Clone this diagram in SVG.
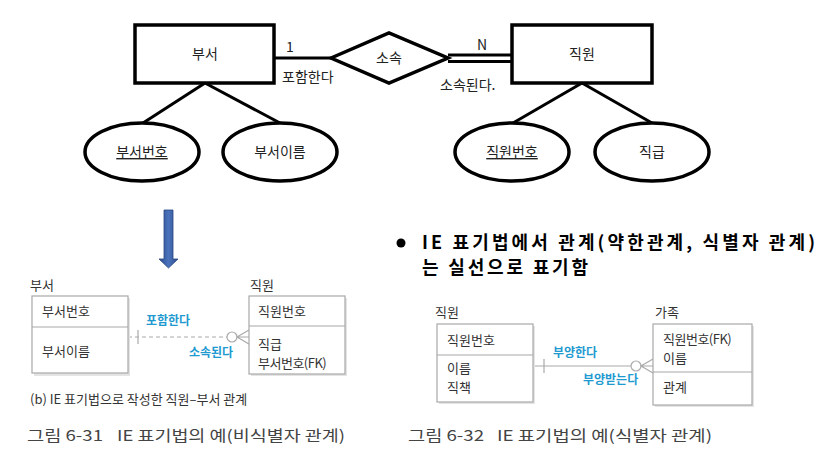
<svg xmlns="http://www.w3.org/2000/svg" width="820" height="458" viewBox="0 0 820 458">
<defs>
<linearGradient id="ag" x1="0" y1="0" x2="1" y2="0">
<stop offset="0" stop-color="#2f4f8f"/><stop offset="0.5" stop-color="#4a72bb"/><stop offset="1" stop-color="#2f4f8f"/>
</linearGradient>
</defs>
<style>
text{font-family:"Noto Sans CJK KR","Liberation Sans",sans-serif;}
.t{font-size:14px;fill:#222;}
.er{fill:#fff;stroke:#000;stroke-width:3.5;}
.ln{stroke:#000;stroke-width:3;fill:none;}
.ie{fill:#fff;stroke:#a8a8a8;stroke-width:1.2;}
.sh{fill:#e4e4e4;}
.dv{stroke:#a8a8a8;stroke-width:1.2;}
.it{font-size:13px;fill:#333;}
.bl{font-size:12px;fill:#1e9ad0;font-weight:bold;}
.cg{stroke:#aaa;stroke-width:1.2;fill:none;}
.cap{font-size:15px;fill:#444;}
.bb{font-size:18px;font-weight:bold;fill:#000;}
</style>
<rect width="820" height="458" fill="#fff"/>
<g id="connectors">
<line class="ln" x1="205" y1="83" x2="143" y2="123"/>
<line class="ln" x1="205" y1="83" x2="280" y2="123"/>
<line class="ln" x1="582" y1="83" x2="513" y2="123"/>
<line class="ln" x1="582" y1="83" x2="652" y2="123"/>
<line class="ln" x1="274" y1="58" x2="331" y2="58"/>
<line class="ln" x1="448" y1="55" x2="512" y2="55"/>
<line class="ln" x1="448" y1="61.5" x2="512" y2="61.5"/>
<line x1="128" y1="337" x2="227" y2="337" stroke="#aaa" stroke-width="1.2" stroke-dasharray="4,3"/>
<line class="cg" x1="138" y1="330" x2="138" y2="344"/>
<circle cx="232" cy="337" r="5" fill="#fff" stroke="#aaa" stroke-width="1.2"/>
<path class="cg" d="M249 330 L237 337 L249 344 M237 337 L249 337"/>
<line x1="533" y1="366" x2="631" y2="366" stroke="#aaa" stroke-width="1.2"/>
<line class="cg" x1="544" y1="359" x2="544" y2="373"/>
<circle cx="636" cy="366" r="5" fill="#fff" stroke="#aaa" stroke-width="1.2"/>
<path class="cg" d="M653 359 L641 366 L653 373 M641 366 L653 366"/>
</g>
<g id="dept">
<rect class="er" x="135" y="25" width="139" height="58"/>
<text class="t" x="205" y="59" text-anchor="middle">부서</text>
</g>
<g id="belong">
<polygon class="er" points="331,58 389,33 448,58 389,83"/>
<text class="t" x="389" y="63" text-anchor="middle">소속</text>
</g>
<g id="emp">
<rect class="er" x="512" y="25" width="140" height="58"/>
<text class="t" x="582" y="59" text-anchor="middle">직원</text>
</g>
<g id="labels-top">
<text class="t" x="286" y="52">1</text>
<text class="t" x="282" y="82">포함한다</text>
<text class="t" x="477" y="50">N</text>
<text class="t" x="440" y="90">소속된다.</text>
</g>
<g id="attr-deptno">
<ellipse class="er" cx="142" cy="152" rx="57" ry="29"/>
<text class="t" x="142" y="157" text-anchor="middle" text-decoration="underline">부서번호</text>
</g>
<g id="attr-deptname">
<ellipse class="er" cx="280" cy="152" rx="57" ry="29"/>
<text class="t" x="280" y="157" text-anchor="middle">부서이름</text>
</g>
<g id="attr-empno">
<ellipse class="er" cx="512" cy="152" rx="57" ry="29"/>
<text class="t" x="512" y="157" text-anchor="middle" text-decoration="underline">직원번호</text>
</g>
<g id="attr-grade">
<ellipse class="er" cx="652" cy="152" rx="57" ry="29"/>
<text class="t" x="652" y="157" text-anchor="middle">직급</text>
</g>
<g id="arrow">
<polygon points="164,210 173,210 173,259 178,259 168.5,268 159,259 164,259" fill="url(#ag)" stroke="#2a4680" stroke-width="0.8"/>
</g>
<g id="ie-dept">
<text class="it" x="30" y="290">부서</text>
<rect class="sh" x="34" y="298" width="96" height="78"/>
<rect class="ie" x="32" y="296" width="96" height="77"/>
<line class="dv" x1="32" y1="327" x2="128" y2="327"/>
<text class="it" x="42" y="316">부서번호</text>
<text class="it" x="42" y="356">부서이름</text>
</g>
<g id="ie-emp">
<text class="it" x="250" y="290">직원</text>
<rect class="sh" x="251" y="298" width="96" height="78"/>
<rect class="ie" x="249" y="296" width="96" height="78"/>
<line class="dv" x1="249" y1="326" x2="345" y2="326"/>
<text class="it" x="258" y="316">직원번호</text>
<text class="it" x="258" y="349">직급</text>
<text class="it" x="258" y="368" letter-spacing="-0.5">부서번호(FK)</text>
</g>
<g id="ie-labels1">
<text class="bl" x="146" y="325">포함한다</text>
<text class="bl" x="189" y="357">소속된다</text>
<text x="30" y="404" font-size="13" fill="#333">(b) IE 표기법으로 작성한 직원–부서 관계</text>
</g>
<g id="bullet">
<circle cx="401" cy="243" r="4.5" fill="#000"/>
<text class="bb" x="422" y="249" textLength="393" lengthAdjust="spacing">IE 표기법에서 관계(약한관계, 식별자 관계)</text>
<text class="bb" x="422" y="274" textLength="166" lengthAdjust="spacing">는 실선으로 표기함</text>
</g>
<g id="ie2-emp">
<text class="it" x="435" y="317">직원</text>
<rect class="sh" x="439" y="326" width="96" height="78"/>
<rect class="ie" x="437" y="324" width="96" height="78"/>
<line class="dv" x1="437" y1="355" x2="533" y2="355"/>
<text class="it" x="447" y="345">직원번호</text>
<text class="it" x="447" y="373">이름</text>
<text class="it" x="447" y="392">직책</text>
</g>
<g id="ie2-family">
<text class="it" x="655" y="317">가족</text>
<rect class="sh" x="655" y="326" width="99" height="81"/>
<rect class="ie" x="653" y="324" width="99" height="81"/>
<line class="dv" x1="653" y1="372" x2="752" y2="372"/>
<text class="it" x="663" y="344" letter-spacing="-0.5">직원번호(FK)</text>
<text class="it" x="663" y="363">이름</text>
<text class="it" x="663" y="392">관계</text>
</g>
<g id="ie-labels2">
<text class="bl" x="553" y="357">부양한다</text>
<text class="bl" x="583" y="384">부양받는다</text>
</g>
<g id="captions">
<text class="cap" x="27" y="441" fill="#888" textLength="76" lengthAdjust="spacingAndGlyphs">그림 6-31</text>
<text class="cap" x="117" y="441" textLength="228" lengthAdjust="spacingAndGlyphs">IE 표기법의 예(비식별자 관계)</text>
<text class="cap" x="408" y="441" fill="#888" textLength="76" lengthAdjust="spacingAndGlyphs">그림 6-32</text>
<text class="cap" x="497" y="441" textLength="215" lengthAdjust="spacingAndGlyphs">IE 표기법의 예(식별자 관계)</text>
</g>
</svg>
